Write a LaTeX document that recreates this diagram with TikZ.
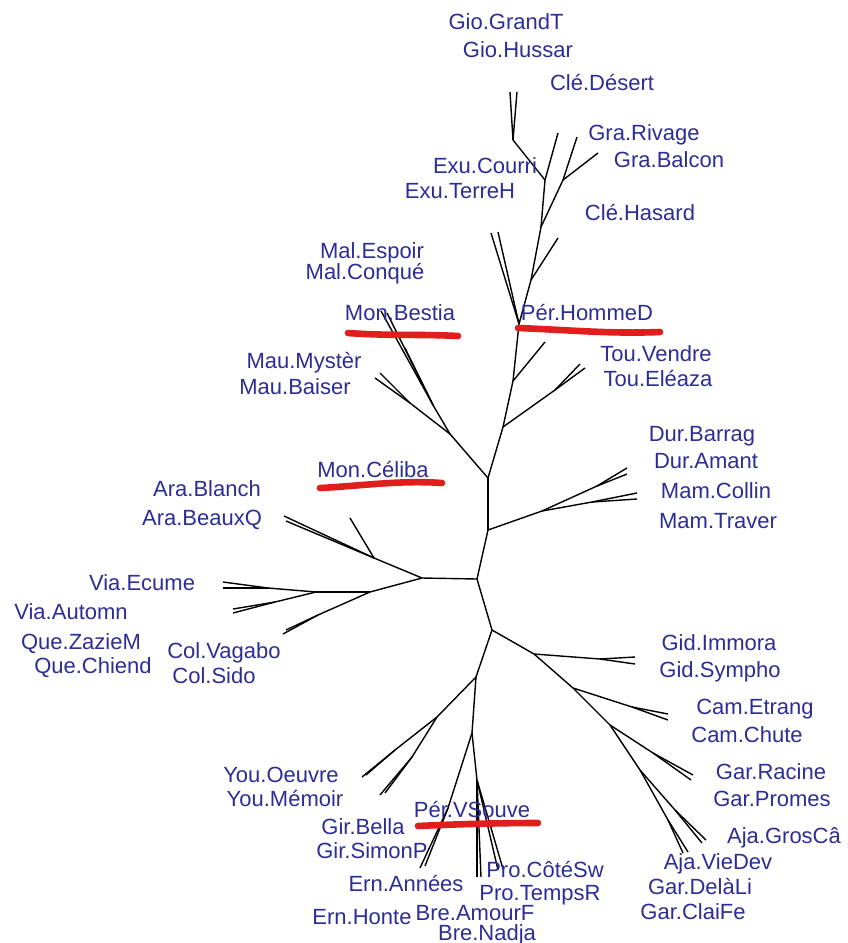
\documentclass[tikz,border=0pt]{standalone}
\usepackage{fontspec}
\setmainfont{Liberation Sans}
\definecolor{lblblue}{RGB}{45,45,150}
\definecolor{hlred}{RGB}{225,30,30}
\begin{document}
\begin{tikzpicture}[x=0.5pt,y=-0.5pt,
  lbl/.style={text=lblblue,font=\fontsize{11pt}{13pt}\selectfont,inner sep=0pt,
              text height=7.9pt,text depth=0pt,anchor=center},
  edge/.style={draw=black,line width=0.7pt},
  hl/.style={draw=hlred,line width=3.3pt,line cap=round,line join=round}]
\fill[white] (0,0) rectangle (847,943);
\useasboundingbox (0,0) rectangle (847,943);

% ---- internal vertices and tips of the tree ----
\foreach \n/\x/\y in {
  hubL/477/579, hubR/488/530, hubU/488/478, hubD/492/630, nL/422/578,
  nM1/450/434, nMau/410/403, tMau1/375/378, tMau2/380/373,
  nBes/433/405, tBes1/381/311, tBes2/387/313, tBes3/405/348,
  nP1/503/427, nTou/555/390, tTou1/580/364, tTou2/585/368,
  nP2/513/381, tP2/545/342, nP3/519/324, tPH1/491/233, tPH2/498/232,
  nP4/531/280, tHas/558/238, nP5/541/227, nGra/563/180, tGra1/577/137, tGra2/598/153,
  nG1/545/180, tDes/558/133, nG2/513/140, tGio1/510/92, tGio2/517/92,
  nDM/542/511, nDur/597/486, tDur1/627/468, tDur2/627/474,
  nMam/592/502, tMam1/637/493, tMam2/637/499,
  nGd/534/654, nGid/600/659, tGid1/635/657, tGid2/635/664,
  nCm/573/688, nCam/632/707, tCam1/668/714, tCam2/668/720,
  nGr/610/725, nGar/653/753, tGar1/693/775, tGar2/691/780,
  nAj/640/770, nAjA/675/810, tAjA1/706/840, tAjA2/702/843,
  nAjB/668/820, tAjB1/683/853, tAjB2/688/852,
  nY1/476/677, nYo/437/717, nYou/395/750, tYou1/362/777, tYou2/366/775,
  nGir/412/757, tGir1/380/795, tGir2/385/793,
  nBr/472/733, nErn/448/808, tErn1/420/868, tErn2/425/866,
  nBn/477/780, tBre1/477/877, tBre2/481/877, tPro1/498/870, tPro2/503/869,
  nAr/374/558, tAra1/284/516, tAra2/286/521, tCel/350/518,
  nV1/370/592, nCol/318/615, tCol1/283/634, tCol2/286/630,
  nV2/316/592, nVE/268/588, tVE1/223/582, tVE2/223/588,
  nVA/275/602, tVA1/233/613, tVA2/233/609}
  \coordinate (\n) at (\x,\y);

% ---- branches ----
\foreach \a/\b in {
  hubL/nL, hubL/hubR, hubL/hubD, hubR/hubU, hubR/nDM,
  hubU/nM1, nM1/nMau, nMau/tMau1, nMau/tMau2, nM1/nBes, nBes/tBes1, nBes/tBes2, nBes/tBes3,
  hubU/nP1, nP1/nTou, nTou/tTou1, nTou/tTou2, nP1/nP2, nP2/tP2, nP2/nP3, nP3/tPH1, nP3/tPH2,
  nP3/nP4, nP4/tHas, nP4/nP5, nP5/nGra, nGra/tGra1, nGra/tGra2, nP5/nG1, nG1/tDes,
  nG1/nG2, nG2/tGio1, nG2/tGio2,
  nDM/nDur, nDur/tDur1, nDur/tDur2, nDM/nMam, nMam/tMam1, nMam/tMam2,
  hubD/nGd, nGd/nGid, nGid/tGid1, nGid/tGid2, nGd/nCm, nCm/nCam, nCam/tCam1, nCam/tCam2,
  nCm/nGr, nGr/nGar, nGar/tGar1, nGar/tGar2, nGr/nAj, nAj/nAjA, nAjA/tAjA1, nAjA/tAjA2,
  nAj/nAjB, nAjB/tAjB1, nAjB/tAjB2,
  hubD/nY1, nY1/nYo, nYo/nYou, nYou/tYou1, nYou/tYou2, nYo/nGir, nGir/tGir1, nGir/tGir2,
  nY1/nBr, nBr/nErn, nErn/tErn1, nErn/tErn2, nBr/nBn, nBn/tBre1, nBn/tBre2, nBn/tPro1, nBn/tPro2,
  nL/nAr, nAr/tAra1, nAr/tAra2, nAr/tCel, nL/nV1, nV1/nCol, nCol/tCol1, nCol/tCol2,
  nV1/nV2, nV2/nVE, nVE/tVE1, nVE/tVE2, nV2/nVA, nVA/tVA1, nVA/tVA2}
  \draw[edge] (\a) -- (\b);

% ---- leaf labels ----
\node[lbl] (lGioGrandT) at (506,22)  {Gio.GrandT};
\node[lbl] (lGioHussar) at (518,50)  {Gio.Hussar};
\node[lbl] (lCleDesert) at (602,83)  {Clé.Désert};
\node[lbl] (lGraRivage) at (644,133) {Gra.Rivage};
\node[lbl] (lGraBalcon) at (669,160) {Gra.Balcon};
\node[lbl] (lExuCourri) at (485,166) {Exu.Courri};
\node[lbl] (lExuTerreH) at (460,191) {Exu.TerreH};
\node[lbl] (lCleHasard) at (640,213) {Clé.Hasard};
\node[lbl] (lMalEspoir) at (372,251) {Mal.Espoir};
\node[lbl] (lMalConque) at (365,272) {Mal.Conqué};
\node[lbl] (lMonBestia) at (400,313) {Mon.Bestia};
\node[lbl] (lPerHommeD) at (587,313) {Pér.HommeD};
\node[lbl] (lMauMyster) at (304,361) {Mau.Mystèr};
\node[lbl] (lMauBaiser) at (295,387) {Mau.Baiser};
\node[lbl] (lTouVendre) at (656,354) {Tou.Vendre};
\node[lbl] (lTouEleaza) at (658,379) {Tou.Eléaza};
\node[lbl] (lMonCeliba) at (373,470) {Mon.Céliba};
\node[lbl] (lDurBarrag) at (702,434) {Dur.Barrag};
\node[lbl] (lDurAmant)  at (706,461) {Dur.Amant};
\node[lbl] (lMamCollin) at (716,491) {Mam.Collin};
\node[lbl] (lMamTraver) at (718,521) {Mam.Traver};
\node[lbl] (lAraBlanch) at (207,489) {Ara.Blanch};
\node[lbl] (lAraBeauxQ) at (202,518) {Ara.BeauxQ};
\node[lbl] (lViaEcume)  at (142,583) {Via.Ecume};
\node[lbl] (lViaAutomn) at (71,612)  {Via.Automn};
\node[lbl] (lQueZazieM) at (81,642)  {Que.ZazieM};
\node[lbl] (lQueChiend) at (93,666)  {Que.Chiend};
\node[lbl] (lColVagabo) at (224,651) {Col.Vagabo};
\node[lbl] (lColSido)   at (214,676) {Col.Sido};
\node[lbl] (lGidImmora) at (719,643) {Gid.Immora};
\node[lbl] (lGidSympho) at (720,670) {Gid.Sympho};
\node[lbl] (lCamEtrang) at (755,707) {Cam.Etrang};
\node[lbl] (lCamChute)  at (747,735) {Cam.Chute};
\node[lbl] (lGarRacine) at (771,772) {Gar.Racine};
\node[lbl] (lGarPromes) at (772,799) {Gar.Promes};
\node[lbl] (lAjaGrosCa) at (784,836) {Aja.GrosCâ};
\node[lbl] (lAjaVieDev) at (718,862) {Aja.VieDev};
\node[lbl] (lGarDelaLi) at (700,887) {Gar.DelàLi};
\node[lbl] (lGarClaiFe) at (693,912) {Gar.ClaiFe};
\node[lbl] (lYouOeuvre) at (281,775) {You.Oeuvre};
\node[lbl] (lYouMemoir) at (285,799) {You.Mémoir};
\node[lbl] (lPerVSouve) at (472,810) {Pér.VSouve};
\node[lbl] (lGirBella)  at (363,827) {Gir.Bella};
\node[lbl] (lGirSimonP) at (372,851) {Gir.SimonP};
\node[lbl] (lErnAnnees) at (406,884) {Ern.Années};
\node[lbl] (lProCoteSw) at (545,870) {Pro.CôtéSw};
\node[lbl] (lProTempsR) at (540,893) {Pro.TempsR};
\node[lbl] (lErnHonte)  at (362,917) {Ern.Honte};
\node[lbl] (lBreAmourF) at (475,913) {Bre.AmourF};
\node[lbl] (lBreNadja)  at (487,933) {Bre.Nadja};

% ---- hand-drawn red underlines ----
\draw[hl] (348,333) .. controls (390,336) and (420,334) .. (458,336);
\draw[hl] (518,328) .. controls (570,330) and (610,334) .. (660,332);
\draw[hl] (320,488) .. controls (360,486) and (400,480) .. (442,483);
\draw[hl] (418,826) .. controls (460,824) and (500,823) .. (538,823);
\end{tikzpicture}
\end{document}
